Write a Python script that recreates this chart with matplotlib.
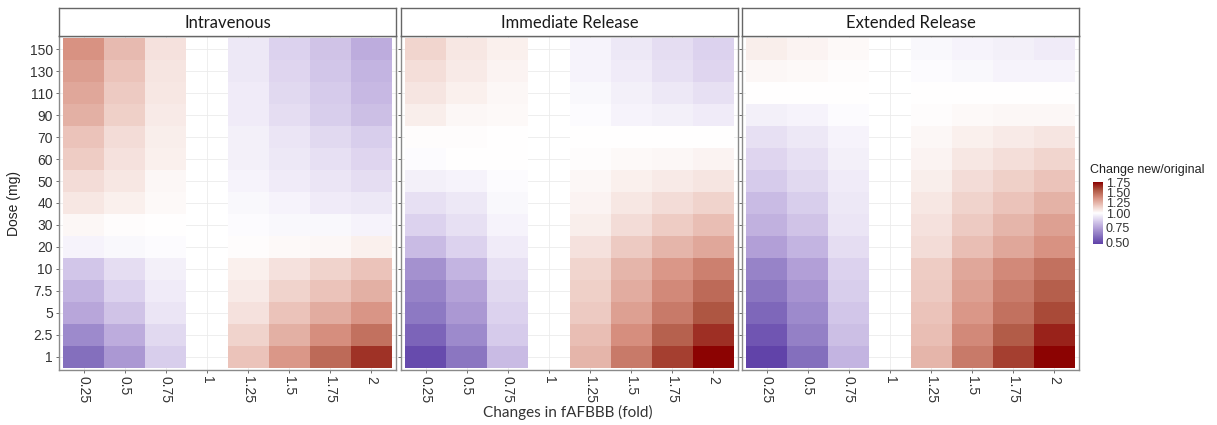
#!/usr/bin/env python3
import matplotlib as mpl
import matplotlib.pyplot as plt
import numpy as np
from matplotlib.colors import LinearSegmentedColormap, TwoSlopeNorm

mpl.use("Agg")

# categories
folds = ["0.25", "0.5", "0.75", "1", "1.25", "1.5", "1.75", "2"]
doses = ["1", "2.5", "5", "7.5", "10", "20", "30", "40", "50", "60",
         "70", "90", "110", "130", "150"]
panels = ["Intravenous", "Immediate Release", "Extended Release"]
nan = np.nan

# change new/original, rows = doses (bottom to top), cols = folds
iv_vals = [
    [0.60, 0.72, 0.87, nan, 1.20, 1.35, 1.50, 1.65],
    [0.68, 0.78, 0.90, nan, 1.15, 1.27, 1.38, 1.48],
    [0.76, 0.84, 0.93, nan, 1.10, 1.20, 1.28, 1.36],
    [0.80, 0.88, 0.95, nan, 1.07, 1.15, 1.20, 1.27],
    [0.85, 0.91, 0.96, nan, 1.05, 1.10, 1.15, 1.20],
    [0.97, 0.98, 0.99, nan, 1.01, 1.02, 1.03, 1.05],
    [1.03, 1.01, 1.00, nan, 0.99, 0.98, 0.98, 0.97],
    [1.08, 1.05, 1.02, nan, 0.98, 0.97, 0.95, 0.94],
    [1.12, 1.08, 1.03, nan, 0.97, 0.95, 0.93, 0.91],
    [1.17, 1.10, 1.05, nan, 0.96, 0.94, 0.92, 0.89],
    [1.20, 1.12, 1.06, nan, 0.96, 0.93, 0.90, 0.87],
    [1.27, 1.16, 1.07, nan, 0.95, 0.91, 0.87, 0.83],
    [1.30, 1.18, 1.08, nan, 0.95, 0.90, 0.86, 0.81],
    [1.33, 1.20, 1.09, nan, 0.94, 0.89, 0.85, 0.80],
    [1.37, 1.23, 1.10, nan, 0.94, 0.88, 0.84, 0.78],
]
ir_vals = [
    [0.50, 0.62, 0.82, nan, 1.25, 1.45, 1.62, 1.76],
    [0.57, 0.68, 0.86, nan, 1.22, 1.38, 1.53, 1.66],
    [0.63, 0.72, 0.88, nan, 1.18, 1.32, 1.45, 1.57],
    [0.66, 0.75, 0.90, nan, 1.16, 1.28, 1.40, 1.50],
    [0.70, 0.80, 0.92, nan, 1.14, 1.25, 1.35, 1.43],
    [0.82, 0.88, 0.95, nan, 1.10, 1.18, 1.25, 1.30],
    [0.88, 0.92, 0.97, nan, 1.06, 1.12, 1.17, 1.22],
    [0.92, 0.94, 0.98, nan, 1.04, 1.08, 1.12, 1.15],
    [0.96, 0.97, 0.99, nan, 1.03, 1.05, 1.07, 1.09],
    [0.99, 1.00, 1.00, nan, 1.01, 1.02, 1.03, 1.04],
    [1.01, 1.01, 1.00, nan, 1.00, 1.00, 1.00, 1.00],
    [1.06, 1.03, 1.02, nan, 0.99, 0.97, 0.96, 0.95],
    [1.09, 1.05, 1.03, nan, 0.98, 0.96, 0.94, 0.92],
    [1.11, 1.07, 1.04, nan, 0.97, 0.95, 0.92, 0.89],
    [1.14, 1.08, 1.05, nan, 0.97, 0.94, 0.91, 0.88],
]
er_vals = [
    [0.48, 0.60, 0.80, nan, 1.25, 1.45, 1.62, 1.76],
    [0.53, 0.65, 0.83, nan, 1.22, 1.40, 1.55, 1.69],
    [0.58, 0.68, 0.85, nan, 1.20, 1.35, 1.48, 1.60],
    [0.62, 0.71, 0.87, nan, 1.18, 1.32, 1.44, 1.54],
    [0.66, 0.74, 0.88, nan, 1.17, 1.30, 1.40, 1.48],
    [0.74, 0.80, 0.91, nan, 1.12, 1.22, 1.30, 1.37],
    [0.79, 0.84, 0.93, nan, 1.10, 1.18, 1.25, 1.32],
    [0.82, 0.87, 0.94, nan, 1.08, 1.15, 1.20, 1.26],
    [0.86, 0.90, 0.95, nan, 1.06, 1.12, 1.16, 1.20],
    [0.89, 0.92, 0.96, nan, 1.04, 1.08, 1.11, 1.14],
    [0.92, 0.94, 0.97, nan, 1.03, 1.05, 1.07, 1.09],
    [0.96, 0.97, 0.99, nan, 1.01, 1.02, 1.03, 1.03],
    [1.00, 1.00, 1.00, nan, 1.00, 1.00, 1.00, 1.00],
    [1.03, 1.02, 1.01, nan, 0.99, 0.98, 0.97, 0.97],
    [1.06, 1.04, 1.02, nan, 0.98, 0.97, 0.96, 0.95],
]
legend_ticks = [0.50, 0.75, 1.00, 1.25, 1.50, 1.75]

# purple -> white -> dark red, stops picked to mimic a Lab-space blend
cmap = LinearSegmentedColormap.from_list("chg", [
    (0.000, "#5f40a8"), (0.125, "#8570be"), (0.25, "#b09dd6"),
    (0.375, "#d8cdec"), (0.5, "#ffffff"),
    (0.625, "#ecc6bd"), (0.75, "#d68e7e"), (0.875, "#ad5440"),
    (1.000, "#8b0000"),
])
norm = TwoSlopeNorm(vmin=0.47, vcenter=1.0, vmax=1.77)

W, H = 1217, 425
fig = plt.figure(figsize=(W / 100, H / 100), dpi=100)

lefts = [59, 401, 742]
pw = 337
ptop, pbot = 36, 370
stop = 8

for k, (name, vals) in enumerate(zip(panels, [iv_vals, ir_vals, er_vals])):
    ax = fig.add_axes([lefts[k] / W, 1 - pbot / H, pw / W, (pbot - ptop) / H])
    data = np.ma.masked_invalid(np.array(vals))
    xe = np.arange(len(folds) + 1) + 0.5
    ye = np.arange(len(doses) + 1) + 0.5
    ax.set_axisbelow(True)
    ax.grid(True, color="#ebebeb", linewidth=0.6)
    ax.pcolormesh(xe, ye, data, cmap=cmap, norm=norm, zorder=2)
    ax.set_xlim(0.4, len(folds) + 0.6)
    ax.set_ylim(0.4, len(doses) + 0.6)
    ax.set_xticks(np.arange(1, len(folds) + 1))
    ax.set_xticklabels(folds, rotation=270, fontsize=10,
                       family="Liberation Sans", color="#333333",
                       va="top", ha="center")
    ax.set_yticks(np.arange(1, len(doses) + 1))
    if k == 0:
        ax.set_yticklabels(doses, fontsize=10, family="Liberation Sans",
                           color="#333333")
        ax.set_ylabel("Dose (mg)", fontsize=10, family="Liberation Sans",
                      color="#222222", labelpad=6)
    else:
        ax.set_yticklabels([])
    ax.tick_params(length=2.5, width=0.6, color="#555555", pad=2)
    for s in ax.spines.values():
        s.set_color("#8a8a8a")
        s.set_linewidth(1.0)

    # facet strip
    sax = fig.add_axes([lefts[k] / W, 1 - ptop / H, pw / W, (ptop - stop) / H])
    sax.set_xticks([])
    sax.set_yticks([])
    for s in sax.spines.values():
        s.set_color("#666666")
        s.set_linewidth(1.0)
    sax.text(0.5, 0.47, name, ha="center", va="center", fontsize=12,
             family="Lato", color="#1a1a1a", transform=sax.transAxes)

fig.text(568 / W, 1 - 412 / H, "Changes in fAFBBB (fold)", ha="center",
         va="center", fontsize=11, family="Lato", color="#333333")

# legend colorbar
cax = fig.add_axes([1093 / W, 1 - 244 / H, 10 / W, 62 / H])
cb = fig.colorbar(mpl.cm.ScalarMappable(norm=norm, cmap=cmap), cax=cax,
                  ticks=legend_ticks)
cb.outline.set_visible(False)
cb.ax.tick_params(length=0, pad=2, labelsize=9)
cb.ax.set_yticklabels(["%.2f" % t for t in legend_ticks],
                      family="Liberation Sans", color="#333333")
fig.text(1090 / W, 1 - 170 / H, "Change new/original", ha="left",
         va="center", fontsize=9, family="Liberation Sans", color="#222222")

plt.savefig("out.png", dpi=100)
